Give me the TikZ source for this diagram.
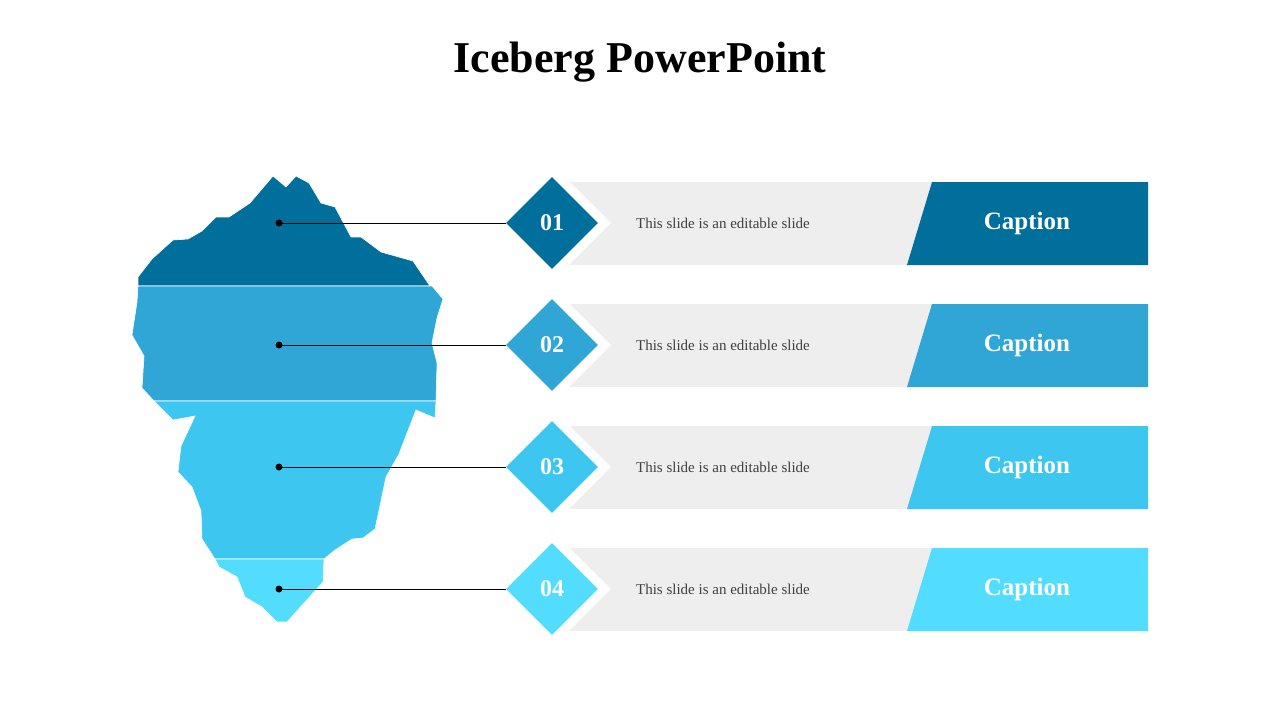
\documentclass[tikz,border=0pt]{standalone}
\usepackage{fontspec}
\setmainfont{Liberation Serif}
\usetikzlibrary{shapes.geometric}
\definecolor{cA}{HTML}{006F9C}
\definecolor{cB}{HTML}{30A6D6}
\definecolor{cC}{HTML}{3DC6EF}
\definecolor{cD}{HTML}{52DCFE}
\definecolor{gbar}{HTML}{EEEEEE}
\begin{document}
\begin{tikzpicture}[x=1pt,y=-1pt,
  band/.style={fill=#1,draw=white,line width=0.6pt},
  dia/.style={diamond,fill=#1,minimum width=92pt,minimum height=92pt,inner sep=0pt,text=white,font=\bfseries\fontsize{24}{24}\selectfont},
  captext/.style={text=white,font=\bfseries\fontsize{25}{25}\selectfont},
  body/.style={text=black!75,font=\fontsize{15}{15}\selectfont},
  dotnode/.style={circle,fill=black,inner sep=0pt,minimum size=7pt}]
\useasboundingbox (0,0) rectangle (1280,720);
\node[font=\bfseries\fontsize{44}{44}\selectfont] (title) at (640,62) {Iceberg PowerPoint};
% iceberg
\path[band=cA] (138,286) -- (138,277) -- (152,259) -- (173,240) -- (188,239) -- (202,231) -- (216,217) -- (229,217) -- (250,203) -- (273,176) -- (286,187) -- (296,176) -- (309,183) -- (321,203) -- (335,207) -- (351,237) -- (361,237) -- (381,252) -- (413,261) -- (430,286) -- cycle;
\path[band=cB] (138,286) -- (432,286) -- (443,299) -- (437,318) -- (432,343) -- (437,363) -- (436,401) -- (154,401) -- (142,388) -- (144,356) -- (132,335) -- (137,302) -- cycle;
\path[band=cC] (154,401) -- (436,401) -- (435,418) -- (416,410) -- (407,433) -- (399,454) -- (386,477) -- (375,529) -- (363,538) -- (352,539) -- (335,550) -- (324,559) -- (215,559) -- (202,539) -- (201,511) -- (192,487) -- (178,472) -- (181,446) -- (195,416) -- (173,420) -- cycle;
\path[band=cD] (215,559) -- (324,559) -- (323,582) -- (287,622) -- (277,622) -- (262,607) -- (245,597) -- (237,577) -- (219,567) -- cycle;
\foreach \i/\y/\c in {1/223/cA,2/345/cB,3/467/cC,4/589/cD}{
  \fill[gbar] (555,\y-41) rectangle (1148,\y+42);
  \node[diamond,fill=white,minimum width=108pt,minimum height=108pt,inner sep=0pt] (w\i) at (557,\y) {};
  \fill[\c] (932,\y-41) -- (1148,\y-41) -- (1148,\y+42) -- (907,\y+42) -- cycle;
  \node[captext] (c\i) at (1027,\y) {Caption};
  \node[body] (t\i) at (723,\y) {This slide is an editable slide};
  \node[dia=\c] (d\i) at (552,\y) {0\i};
  \node[dotnode] (p\i) at (279,\y) {};
  \draw[line width=0.8pt] (p\i.center) -- (d\i.west);
}
\end{tikzpicture}
\end{document}
